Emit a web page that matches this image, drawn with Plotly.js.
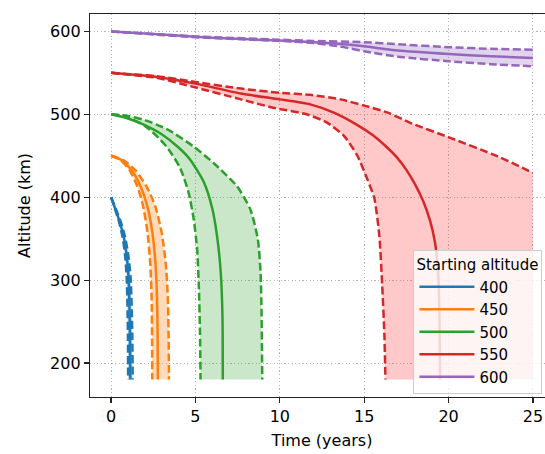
<!DOCTYPE html>
<html><head><meta charset="utf-8">
<script src="https://cdn.plot.ly/plotly-3.0.1.min.js"></script>
<style>html,body{margin:0;padding:0;overflow:hidden;background:#fff;width:545px;height:454px}#chart{width:560px;height:454px}</style>
</head><body><div id="chart"></div>
<script>
// Starting altitudes (legend labels) and colours
const startAltitudes = ['400', '450', '500', '550', '600'];
const lineColors = ['#1f77b4', '#ff7f0e', '#2ca02c', '#d62728', '#9467bd'];
const fillColors = ['rgba(31,119,180,0.3)', 'rgba(255,127,14,0.28)', 'rgba(44,160,44,0.25)', 'rgba(255,60,60,0.28)', 'rgba(148,103,189,0.28)'];

// 400 km
const t400Mean  = [0, 0.25, 0.5, 0.75, 0.92, 1.03, 1.09, 1.12, 1.14];
const h400Mean  = [400, 386, 371, 352, 330, 305, 270, 230, 180];
const t400Lower = [0, 0.23, 0.46, 0.68, 0.83, 0.92, 0.97, 1.0, 1.01];
const h400Lower = [400, 386, 371, 352, 330, 305, 270, 230, 180];
const t400Upper = [0, 0.28, 0.56, 0.83, 1.02, 1.15, 1.22, 1.26, 1.28];
const h400Upper = [400, 386, 371, 352, 330, 305, 270, 230, 180];

// 450 km
const t450Mean  = [0, 0.6, 1.2, 1.75, 2.15, 2.45, 2.63, 2.72, 2.76, 2.77];
const h450Mean  = [450, 445, 433, 413, 389, 357, 320, 280, 230, 180];
const t450Lower = [0, 0.55, 1.08, 1.56, 1.9, 2.16, 2.32, 2.4, 2.43, 2.44];
const h450Lower = [450, 445, 433, 413, 389, 357, 320, 280, 230, 180];
const t450Upper = [0, 0.7, 1.42, 2.1, 2.62, 3.0, 3.24, 3.36, 3.41, 3.43];
const h450Upper = [450, 445, 433, 413, 389, 357, 320, 280, 230, 180];

// 500 km
const t500Mean  = [0, 1, 2, 3, 4, 4.7, 5.5, 6.0, 6.3, 6.5, 6.6, 6.62];
const h500Mean  = [500, 495, 487, 476, 460, 445, 418, 386, 350, 309, 257, 180];
const t500Lower = [0, 1, 2, 2.8, 3.4, 4.1, 4.6, 4.9, 5.1, 5.2, 5.27, 5.3];
const h500Lower = [500, 496, 486, 472, 458, 435, 405, 373, 337, 293, 237, 180];
const t500Upper = [0, 1, 2, 3, 3.5, 4.9, 6.09, 7.47, 8.26, 8.7, 8.86, 8.92, 8.96];
const h500Upper = [500, 498, 493, 485, 480, 461, 441, 413, 385, 349, 309, 257, 180];

// 550 km
const t550Mean  = [0, 2.7, 5, 7.7, 10, 11.8, 13.2, 14.6, 15.5, 16.2, 16.9, 17.5, 18.0, 18.5, 18.9, 19.2, 19.38, 19.46, 19.5];
const h550Mean  = [550, 545, 537, 525, 518, 512, 502, 487, 475, 463, 449, 433, 416, 395, 372, 345, 310, 260, 180];
const t550Lower = [0, 2.7, 4.7, 7.7, 9.6, 11.6, 12.8, 13.8, 14.6, 15.2, 15.6, 15.9, 16.07, 16.2, 16.26];
const h550Lower = [550, 544, 534, 518, 508, 500, 490, 474, 450, 421, 399, 353, 293, 232, 180];
const t550Upper = [0, 2.7, 4.7, 7.7, 10, 11.8, 13.6, 15, 16.4, 17.7, 20.1, 22.9, 25];
const h550Upper = [550, 546, 540, 531, 526, 523.5, 518, 510.5, 502, 490, 471.6, 449.4, 429.4];

// 600 km
const t600Mean  = [0, 2.5, 5, 7.5, 10, 12, 13.5, 15, 17, 20, 22.5, 25];
const h600Mean  = [600, 597, 593.5, 591, 589, 587, 585, 582, 577, 572.8, 570, 568];
const t600Lower = [0, 5, 10, 12, 13.5, 15, 17, 20, 22.5, 25];
const h600Lower = [600, 593, 588.5, 586, 582, 576, 569.5, 564, 560.5, 558];
const t600Upper = [0, 5, 10, 12, 15, 17, 20, 22.5, 25];
const h600Upper = [600, 594, 590, 588.5, 587, 584.5, 581, 579, 578];

const xTicks = [0, 5, 10, 15, 20, 25];
const yTicks = [200, 300, 400, 500, 600];

const series = [
  [t400Mean, h400Mean, t400Lower, h400Lower, t400Upper, h400Upper],
  [t450Mean, h450Mean, t450Lower, h450Lower, t450Upper, h450Upper],
  [t500Mean, h500Mean, t500Lower, h500Lower, t500Upper, h500Upper],
  [t550Mean, h550Mean, t550Lower, h550Lower, t550Upper, h550Upper],
  [t600Mean, h600Mean, t600Lower, h600Lower, t600Upper, h600Upper]
];

const traces = [];
series.forEach((s, i) => {
  const [tm, hm, tl, hl, tu, hu] = s;
  const px = tl.concat([tu[tu.length - 1]], tu.slice().reverse());
  const py = hl.concat([hl[hl.length - 1]], hu.slice().reverse());
  traces.push({x: px, y: py, mode: 'lines', fill: 'toself', fillcolor: fillColors[i],
    line: {width: 0, color: fillColors[i]}, showlegend: false, hoverinfo: 'skip'});
  const dashLine = {color: lineColors[i], width: 2.5, dash: '8px,3.5px', shape: 'spline', smoothing: 0.6};
  traces.push({x: tl, y: hl, mode: 'lines', line: dashLine, showlegend: false});
  traces.push({x: tu, y: hu, mode: 'lines', line: dashLine, showlegend: false});
  traces.push({x: tm, y: hm, mode: 'lines', name: startAltitudes[i],
    line: {color: lineColors[i], width: 2.5, shape: 'spline', smoothing: 0.6}});
});

const fontFam = 'DejaVu Sans, sans-serif';
const axisCommon = {
  showline: true, linecolor: '#222', linewidth: 1.2, mirror: true,
  ticks: 'outside', ticklen: 5, tickwidth: 1.2, tickcolor: '#222',
  showgrid: true, gridcolor: '#b5b5b5', griddash: '1.2px,2.4px', gridwidth: 1,
  zeroline: false, tickfont: {family: fontFam, size: 16, color: '#000'}
};

const layout = {
  width: 560, height: 454,
  margin: {l: 90, r: 6, t: 14, b: 57},
  paper_bgcolor: '#fff', plot_bgcolor: '#fff',
  font: {family: fontFam, color: '#000'},
  xaxis: Object.assign({}, axisCommon, {range: [-1.25, 26.25], tickvals: xTicks,
    title: {text: 'Time (years)', font: {family: fontFam, size: 16, color: '#000'}, standoff: 9}}),
  yaxis: Object.assign({}, axisCommon, {range: [159, 621], tickvals: yTicks,
    title: {text: 'Altitude (km)', font: {family: fontFam, size: 16, color: '#000'}, standoff: 15}}),
  legend: {x: 0.697, xanchor: 'left', y: 0.008, yanchor: 'bottom',
    bgcolor: 'rgba(255,255,255,0.8)', bordercolor: '#cccccc', borderwidth: 1,
    font: {family: fontFam, size: 15, color: '#000'}, itemwidth: 55,
    title: {text: 'Starting altitude', font: {family: fontFam, size: 15, color: '#000'}}},
  showlegend: true
};

Plotly.newPlot('chart', traces, layout, {displayModeBar: false, staticPlot: true});
</script>
</body></html>
